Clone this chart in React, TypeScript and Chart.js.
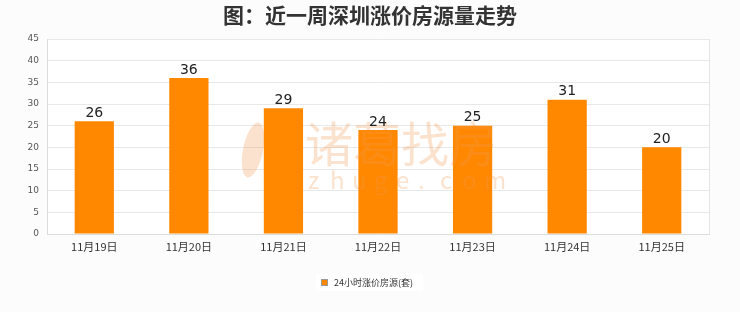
import React, { useEffect, useRef } from "react";
import { Chart, registerables } from "chart.js";

Chart.register(...registerables);

const categories = ["11月19日", "11月20日", "11月21日", "11月22日", "11月23日", "11月24日", "11月25日"];
const values = [26, 36, 29, 24, 25, 31, 20];
const seriesName = "24小时涨价房源(套)";
const titleText = "图：近一周深圳涨价房源量走势";
const yMax = 45;
const yStep = 5;

const FONT = "'Noto Sans CJK SC', 'Noto Sans', sans-serif";
const NUM_FONT = "'DejaVu Sans', 'Noto Sans', sans-serif";

const decorPlugin = {
  id: "decor",
  beforeDraw(chart: any) {
    const { ctx, width, height } = chart;
    ctx.save();
    ctx.fillStyle = "#fcfcfc";
    ctx.fillRect(0, 0, width, height);
    ctx.fillStyle = "#ffffff";
    const a = chart.chartArea;
    ctx.fillRect(a.left, a.top, a.right - a.left, a.bottom - a.top);
    ctx.restore();
  },
  afterDraw(chart: any) {
    const { ctx, width } = chart;
    const a = chart.chartArea;
    ctx.save();
    ctx.strokeStyle = "#e4e4e4";
    ctx.lineWidth = 1;
    ctx.beginPath();
    ctx.moveTo(a.right + 0.5, a.top);
    ctx.lineTo(a.right + 0.5, a.bottom);
    ctx.stroke();

    // watermark
    ctx.fillStyle = "rgba(240,150,80,0.28)";
    ctx.font = `48px ${FONT}`;
    ctx.textBaseline = "middle";
    ctx.textAlign = "left";
    ctx.fillText("诸葛找房", 305, 144);
    ctx.font = `24px ${FONT}`;
    const letters = "zhuge.com";
    for (let i = 0; i < letters.length; i++) {
      ctx.fillText(letters[i], 308 + i * 22, 180);
    }
    ctx.beginPath();
    ctx.ellipse(253, 150, 10, 28, 0.2, 0, Math.PI * 2);
    ctx.fill();

    // data labels
    const meta = chart.getDatasetMeta(0);
    ctx.fillStyle = "#222";
    ctx.font = `14px ${NUM_FONT}`;
    ctx.textAlign = "center";
    ctx.textBaseline = "bottom";
    meta.data.forEach((bar: any, i: number) => {
      ctx.fillText(String(values[i]), bar.x, bar.y - 1);
    });

    // title
    ctx.fillStyle = "#333";
    ctx.font = `bold 21px ${FONT}`;
    ctx.textBaseline = "middle";
    ctx.fillText(titleText, width / 2, 15);

    // legend
    ctx.font = `9px ${FONT}`;
    const tw = ctx.measureText(seriesName).width;
    const boxX = 316;
    const boxY = 274;
    ctx.fillStyle = "#ffffff";
    ctx.fillRect(boxX, boxY, tw + 28, 17);
    ctx.fillStyle = "#ff8800";
    ctx.fillRect(boxX + 5, boxY + 5, 7, 7);
    ctx.strokeStyle = "#999";
    ctx.strokeRect(boxX + 5.5, boxY + 5.5, 6, 6);
    ctx.fillStyle = "#333";
    ctx.textAlign = "left";
    ctx.fillText(seriesName, boxX + 18, boxY + 9);
    ctx.restore();
  },
};

export default function App() {
  const ref = useRef<HTMLCanvasElement>(null);
  useEffect(() => {
    document.body.style.margin = "0";
    const chart = new Chart(ref.current!, {
      type: "bar",
      data: {
        labels: categories,
        datasets: [
          {
            label: seriesName,
            data: values,
            backgroundColor: "#ff8800",
            borderWidth: 0,
            categoryPercentage: 1,
            barPercentage: 0.415,
          },
        ],
      },
      options: {
        animation: false,
        responsive: false,
        layout: { padding: { left: 0, right: 31, top: 39, bottom: 50 } },
        plugins: {
          legend: { display: false },
          title: { display: false },
          tooltip: { enabled: false },
        },
        scales: {
          x: {
            grid: { display: false, drawTicks: false },
            border: { color: "#dcdcdc" },
            ticks: {
              color: "#333",
              font: { family: FONT, size: 11 },
              padding: 6,
              maxRotation: 0,
            },
            afterFit(scale: any) {
              scale.height = 28;
            },
          },
          y: {
            min: 0,
            max: yMax,
            ticks: {
              stepSize: yStep,
              color: "#555",
              font: { family: NUM_FONT, size: 9 },
              padding: 8,
            },
            grid: { color: "#e8e8e8", drawTicks: false },
            border: { color: "#dcdcdc" },
            afterFit(scale: any) {
              scale.width = 47;
            },
          },
        },
      },
      plugins: [decorPlugin],
    });
    return () => chart.destroy();
  }, []);
  return <canvas ref={ref} width={740} height={312} style={{ display: "block" }} />;
}
